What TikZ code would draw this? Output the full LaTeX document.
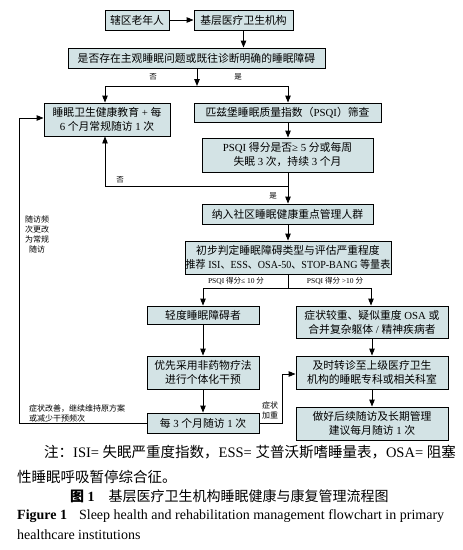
\documentclass[tikz,border=0pt]{standalone}
\usepackage{fontspec}
\setmainfont{Liberation Serif}
\newfontfamily\cjk{Noto Sans CJK SC}
\usetikzlibrary{arrows.meta}
\XeTeXinterchartokenstate=1
\newXeTeXintercharclass\myCJK
\newcount\mycnt
\def\setcls#1#2{\mycnt=#1\relax\loop\XeTeXcharclass\mycnt=\myCJK\advance\mycnt by 1\relax\ifnum\mycnt<#2\repeat}
\setcls{"4E00}{"A000}
\setcls{"3000}{"3040}
\setcls{"FF00}{"FF60}
\XeTeXinterchartoks 0 \myCJK = {\cjk}
\XeTeXinterchartoks 4095 \myCJK = {\cjk}
\XeTeXinterchartoks \myCJK 0 = {\rmfamily}
\XeTeXinterchartoks \myCJK 4095 = {\rmfamily}
\definecolor{boxfill}{HTML}{D3E3E5}
\tikzset{
  box/.style={draw, line width=0.9pt, fill=boxfill, align=center, inner sep=0pt,
    font=\fontsize{10.8}{14}\selectfont},
  arr/.style={-{Triangle[length=7pt,width=5.5pt]}, line width=0.9pt},
  ln/.style={line width=0.9pt},
  lab/.style={font=\fontsize{7.5}{9}\selectfont, inner sep=0pt},
  side/.style={font=\fontsize{8}{10}\selectfont, inner sep=0pt},
  captxt/.style={font=\fontsize{14.5}{16}\selectfont, inner sep=0pt, anchor=west},
  entxt/.style={font=\fontsize{14}{16}\selectfont, inner sep=0pt, anchor=west},
}
\begin{document}
\begin{tikzpicture}[x=1pt,y=-1pt]
\useasboundingbox[fill=white] (0,0) rectangle (463,550);
% boxes
\node[box, minimum width=64pt, minimum height=20pt] (a) at (137,20) {辖区老年人};
\node[box, minimum width=99pt, minimum height=20pt] (b) at (243.5,20) {基层医疗卫生机构};
\node[box, minimum width=257pt, minimum height=20pt] (c) at (196.5,58) {是否存在主观睡眠问题或既往诊断明确的睡眠障碍};
\node[box, minimum width=126pt, minimum height=33pt] (d) at (107,119.5) {睡眠卫生健康教育 + 每\\6 个月常规随访 1 次};
\node[box, minimum width=187pt, minimum height=19pt] (e) at (287.5,112.5) {匹兹堡睡眠质量指数（PSQI）筛查};
\node[box, minimum width=171pt, minimum height=34pt] (f) at (287.5,155) {PSQI 得分是否≥ 5 分或每周\\失眠 3 次，持续 3 个月};
\node[box, minimum width=171pt, minimum height=20pt] (g) at (287.5,214) {纳入社区睡眠健康重点管理人群};
\node[box, minimum width=206pt, minimum height=33pt] (h) at (288,257.5) {初步判定睡眠障碍类型与评估严重程度\\\scalebox{0.93}[1]{推荐 ISI、ESS、OSA-50、STOP-BANG 等量表}};
\node[box, minimum width=112pt, minimum height=18pt] (i) at (203,315) {轻度睡眠障碍者};
\node[box, minimum width=152pt, minimum height=32pt] (j) at (372,322) {症状较重、疑似重度 OSA 或\\合并复杂躯体 / 精神疾病者};
\node[box, minimum width=112pt, minimum height=33pt] (k) at (203,372.5) {优先采用非药物疗法\\进行个体化干预};
\node[box, minimum width=152pt, minimum height=33pt] (l) at (372,372.5) {及时转诊至上级医疗卫生\\机构的睡眠专科或相关科室};
\node[box, minimum width=112pt, minimum height=20pt] (m) at (203,423) {每 3 个月随访 1 次};
\node[box, minimum width=152pt, minimum height=33pt] (n) at (372,423.5) {做好后续随访及长期管理\\建议每月随访 1 次};
% connectors
\draw[arr] (a) -- (b);
\draw[arr] (b.south) -- (b.south |- c.north);
\coordinate (s1) at (197,86);
\coordinate (sL) at (105,86);
\coordinate (sR) at (288,86);
\draw[arr] (c.south -| s1) -- (s1);
\draw[ln] (sL) -- (sR);
\draw[arr] (sL) -- (sL |- d.north);
\draw[arr] (sR) -- (sR |- e.north);
\node[lab] (no1) at (153,77) {否};
\node[lab] (yes1) at (238,77) {是};
\draw[arr] (e.south -| sR) -- (f.north -| sR);
\coordinate (s2) at (288,186);
\draw[arr] (f.south -| s2) -- (g.north -| s2);
\draw[arr] (s2) -| (d.south -| sL);
\node[lab] (no2) at (120,180) {否};
\node[lab] (yes2) at (273,196) {是};
\draw[arr] (g.south -| s2) -- (h.north -| s2);
\coordinate (s3) at (288,288);
\coordinate (s3L) at (203,288);
\coordinate (s3R) at (371,288);
\draw[ln] (h.south -| s3) -- (s3);
\draw[ln] (s3L) -- (s3R);
\draw[arr] (s3L) -- (s3L |- i.north);
\draw[arr] (s3R) -- (s3R |- j.north);
\node[lab] (p1) at (236,281) {PSQI 得分≤ 10 分};
\node[lab] (p2) at (335,281) {PSQI 得分 >10 分};
\draw[arr] (i) -- (k);
\draw[arr] (k) -- (m);
\draw[arr] (j) -- (l);
\draw[arr] (l) -- (n);
\coordinate (up) at (282,374);
\draw[arr] (m.east) -| (up) -- (up -| l.west);
\coordinate (lp) at (19,118);
\draw[arr] (m.west) -| (lp) -- (lp -| d.west);
\node[side, align=center] (w1) at (270,410) {症状\\加重};
\node[side, align=left, anchor=west] (w2) at (29,413.5) {症状改善，继续维持原方案\\或减少干预频次};
\node[side, align=center] (w3) at (37,234) {随访频\\次更改\\为常规\\随访};
% captions
\node[captxt] (n1) at (44,452) {注：ISI= 失眠严重度指数，ESS= 艾普沃斯嗜睡量表，OSA= 阻塞};
\node[captxt] (n2) at (17,477) {性睡眠呼吸暂停综合征。};
\node[captxt, font=\fontsize{14}{16}\selectfont] (t1) at (70,496) {\bfseries 图 1\hspace{14pt}\mdseries 基层医疗卫生机构睡眠健康与康复管理流程图};
\node[entxt] (t2) at (17,516) {\bfseries Figure 1\hspace{12pt}\mdseries Sleep health and rehabilitation management flowchart in primary};
\node[entxt] (t3) at (17,535) {healthcare institutions};
\end{tikzpicture}
\end{document}
